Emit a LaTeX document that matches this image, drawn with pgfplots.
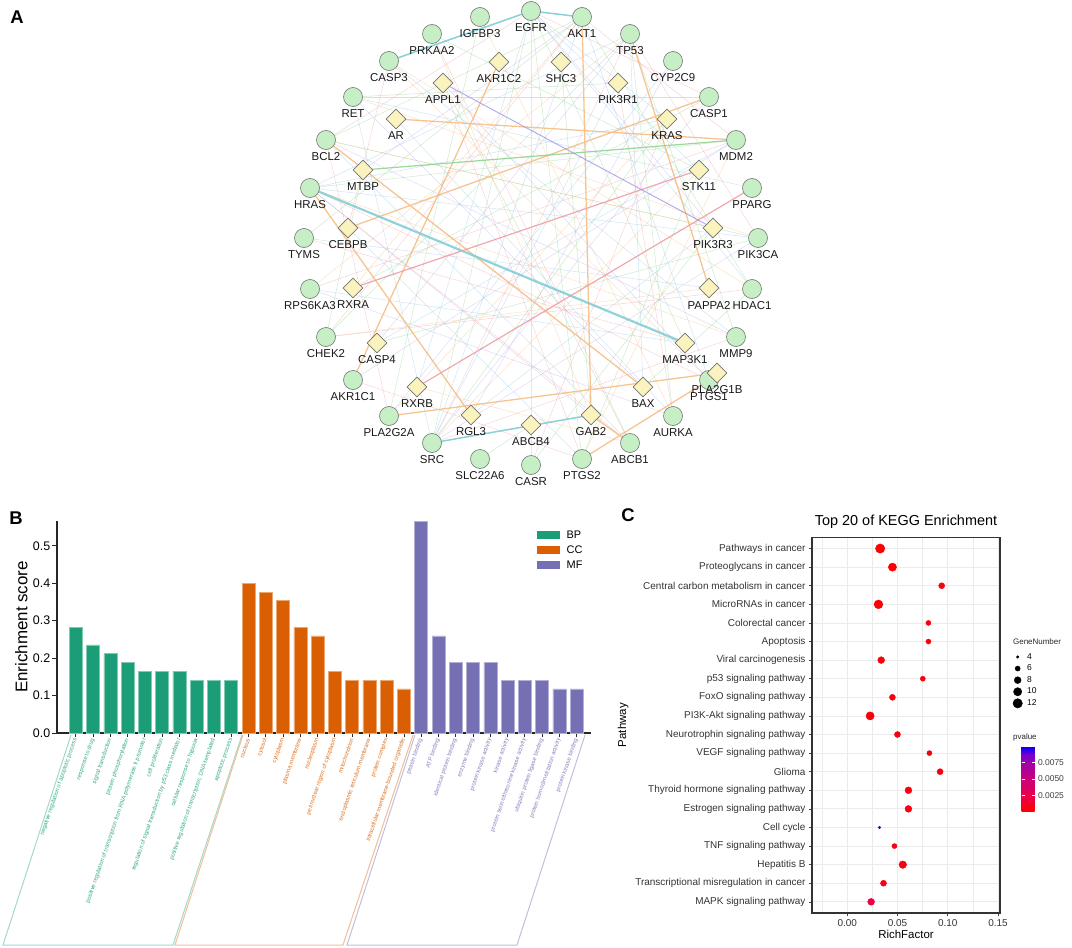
\documentclass[border=0pt]{standalone}
\usepackage{fontspec}
\setmainfont{Liberation Sans}
\usepackage{pgfplots}
\usepackage{pgfplotstable}
\pgfplotsset{compat=1.18}

\definecolor{bpc}{HTML}{1B9E77}
\definecolor{ccc}{HTML}{D95F02}
\definecolor{mfc}{HTML}{7570B3}
\definecolor{nodegreen}{HTML}{C6EFC6}
\definecolor{nodeyellow}{HTML}{FBF3BD}
\definecolor{egreen}{HTML}{8ED48E}
\definecolor{eblue}{HTML}{93C5E6}
\definecolor{epink}{HTML}{EE9FA6}
\definecolor{eorange}{HTML}{F6BE85}
\definecolor{epurple}{HTML}{BDAEE0}
\definecolor{ecyan}{HTML}{7CCBD3}
\definecolor{gridc}{HTML}{EBEBEB}

\newcommand{\fs}[1]{\fontsize{#1}{#1}\selectfont}
\newcommand{\bpl}[1]{\textcolor{bpc!90!white}{#1}}
\newcommand{\ccl}[1]{\textcolor{ccc!90!white}{#1}}
\newcommand{\mfl}[1]{\textcolor{mfc!90!white}{#1}}

% network nodes (picture pixels, y downwards)
\pgfplotstableread{
x y label
531 11 EGFR
582 17 AKT1
630 34 TP53
673 61 CYP2C9
709 97 CASP1
736 140 MDM2
752 188 PPARG
758 238 PIK3CA
752 289 HDAC1
736 337 MMP9
709 380 PTGS1
673 416 AURKA
630 443 ABCB1
582 459 PTGS2
531 465 CASR
480 459 SLC22A6
432 443 SRC
389 416 PLA2G2A
353 380 AKR1C1
326 337 CHEK2
310 289 RPS6KA3
304 238 TYMS
310 188 HRAS
326 140 BCL2
353 97 RET
389 61 CASP3
432 34 PRKAA2
480 17 IGFBP3
}\circlenodes

\pgfplotstableread{
x y label
499 62 AKR1C2
561 62 SHC3
618 83 PIK3R1
667 119 KRAS
699 170 STK11
713 228 PIK3R3
709 288 PAPPA2
685 343 MAP3K1
717 373 PLA2G1B
643 387 BAX
591 415 GAB2
531 425 ABCB4
471 415 RGL3
417 387 RXRB
377 343 CASP4
353 288 RXRA
348 228 CEBPB
363 170 MTBP
396 119 AR
443 83 APPL1
}\diamondnodes

% edges: x1 y1 x2 y2
\pgfplotstableread{
x1 y1 x2 y2
531 11 432 443
531 11 582 459
531 11 685 343
582 17 326 140
582 17 752 289
630 34 326 337
630 34 736 337
736 140 310 188
709 97 353 288
758 238 377 343
432 443 667 119
582 459 699 170
630 443 443 83
591 415 561 62
353 97 618 83
432 34 699 170
326 337 363 170
673 416 630 34
752 289 643 387
480 459 531 425
531 465 713 228
480 17 389 416
326 140 758 238
304 238 582 17
}\edgeG

\pgfplotstableread{
x1 y1 x2 y2
531 11 667 119
531 11 699 170
531 11 752 289
531 11 417 387
582 17 709 380
582 17 432 443
630 34 643 387
630 34 310 188
310 188 667 119
310 188 758 238
353 97 752 188
389 61 736 337
326 140 630 443
432 443 618 83
432 443 353 97
582 459 348 228
310 289 685 343
304 238 709 288
736 140 377 343
713 228 471 415
673 61 389 416
673 416 396 119
}\edgeB

\pgfplotstableread{
x1 y1 x2 y2
531 11 326 140
531 11 709 97
582 17 736 140
582 17 326 337
630 34 758 238
630 34 432 443
310 188 709 380
310 188 630 443
353 97 709 97
389 61 348 228
326 140 389 416
667 119 531 465
432 443 736 337
582 459 353 380
685 343 304 238
618 83 673 416
736 140 310 289
326 337 752 289
432 34 630 443
443 83 582 459
}\edgeP

\pgfplotstableread{
x1 y1 x2 y2
531 11 531 465
582 17 353 288
630 34 310 289
389 61 709 380
758 238 353 97
432 443 699 170
582 459 736 140
480 17 673 416
432 34 591 415
326 140 713 228
752 289 389 61
630 443 417 387
667 119 389 416
736 337 310 188
326 337 709 288
}\edgeO

\pgfplotstableread{
x1 y1 x2 y2
531 11 713 228
582 17 363 170
630 34 377 343
432 443 709 97
310 188 591 415
758 238 432 443
736 140 353 380
326 140 736 337
353 97 643 387
709 380 443 83
673 61 471 415
673 416 310 289
}\edgeU

\pgfplotstableread{
x1 y1 x2 y2
396 119 736 140
326 140 643 387
348 228 709 97
353 380 499 62
310 188 471 415
389 416 717 373
630 34 709 288
591 415 630 443
582 459 709 380
582 17 591 415
}\strongO

\pgfplotstableread{
x1 y1 x2 y2
432 443 591 415
389 61 531 11
531 11 582 17
}\strongC

\pgfplotstableread{
x1 y1 x2 y2
417 387 752 188
353 288 699 170
}\strongP

% KEGG dot plot: row (20 = top), RichFactor, GeneNumber, pvalue
\pgfplotstableread{
y x n p
20 0.0328 12 0.00002
19 0.0450 10 0.0001
18 0.0940 7 0.0003
17 0.0311 11 0.0001
16 0.0808 6 0.0004
15 0.0808 6 0.0004
14 0.0338 8 0.0003
13 0.0752 6 0.0005
12 0.0450 7 0.0005
11 0.0228 10 0.0004
10 0.0500 7 0.0006
9 0.0818 6 0.0005
8 0.0924 7 0.0004
7 0.0609 8 0.0005
6 0.0609 8 0.0006
5 0.0321 4 0.0097
4 0.0470 6 0.0008
3 0.0553 9 0.0006
2 0.0361 7 0.0008
1 0.0238 8 0.0021
}\kegg

\begin{document}
\begin{tikzpicture}

% ---------- A: network, on a pixel-sized hidden axis ----------
\begin{axis}[
    at={(0,0)}, anchor=south west,
    scale only axis, width=1072bp, height=948bp,
    xmin=0, xmax=1072, ymin=0, ymax=948,
    y dir=reverse, hide axis, clip=false,
]
\addplot[draw=egreen, line width=0.5bp, opacity=0.45,
    quiver={u=\thisrow{x2}-\thisrow{x1}, v=\thisrow{y2}-\thisrow{y1}}]
    table[x=x1, y=y1] {\edgeG};
\addplot[draw=eblue, line width=0.5bp, opacity=0.45,
    quiver={u=\thisrow{x2}-\thisrow{x1}, v=\thisrow{y2}-\thisrow{y1}}]
    table[x=x1, y=y1] {\edgeB};
\addplot[draw=epink, line width=0.5bp, opacity=0.45,
    quiver={u=\thisrow{x2}-\thisrow{x1}, v=\thisrow{y2}-\thisrow{y1}}]
    table[x=x1, y=y1] {\edgeP};
\addplot[draw=eorange, line width=0.5bp, opacity=0.45,
    quiver={u=\thisrow{x2}-\thisrow{x1}, v=\thisrow{y2}-\thisrow{y1}}]
    table[x=x1, y=y1] {\edgeO};
\addplot[draw=epurple, line width=0.5bp, opacity=0.45,
    quiver={u=\thisrow{x2}-\thisrow{x1}, v=\thisrow{y2}-\thisrow{y1}}]
    table[x=x1, y=y1] {\edgeU};
\addplot[draw=eorange, line width=1.3bp, opacity=0.9,
    quiver={u=\thisrow{x2}-\thisrow{x1}, v=\thisrow{y2}-\thisrow{y1}}]
    table[x=x1, y=y1] {\strongO};
\addplot[draw=ecyan, line width=1.5bp, opacity=0.9,
    quiver={u=\thisrow{x2}-\thisrow{x1}, v=\thisrow{y2}-\thisrow{y1}}]
    table[x=x1, y=y1] {\strongC};
\addplot[draw=ecyan, line width=2.2bp, opacity=0.85] coordinates {(310,188) (685,343)};
\addplot[draw=epink, line width=1.2bp, opacity=0.9,
    quiver={u=\thisrow{x2}-\thisrow{x1}, v=\thisrow{y2}-\thisrow{y1}}]
    table[x=x1, y=y1] {\strongP};
\addplot[draw=egreen, line width=1.2bp, opacity=0.9] coordinates {(363,170) (736,140)};
\addplot[draw=epurple!80!blue, line width=1bp, opacity=0.7] coordinates {(443,83) (713,228)};

\addplot[only marks, mark=*, mark size=9.5bp,
    mark options={fill=nodegreen, draw=black!55, line width=0.6bp},
    nodes near coords, point meta=explicit symbolic,
    every node near coord/.append style={anchor=center, yshift=-17bp,
        font=\fs{11.5}, text=black!90, inner sep=0pt}]
    table[x=x, y=y, meta=label] {\circlenodes};
\addplot[only marks, mark=square*, mark size=7bp,
    mark options={rotate=45, fill=nodeyellow, draw=black!55, line width=0.6bp},
    nodes near coords, point meta=explicit symbolic,
    every node near coord/.append style={anchor=center, yshift=-17bp,
        font=\fs{11.5}, text=black!90, inner sep=0pt}]
    table[x=x, y=y, meta=label] {\diamondnodes};

% group frames under panel B
\addplot[draw=bpc!40!white, line width=1bp] coordinates {(71,735) (3,945) (173,945) (242,735)};
\addplot[draw=ccc!40!white, line width=1bp] coordinates {(243,735) (175,945) (343,945) (413,735)};
\addplot[draw=mfc!45!white, line width=1bp] coordinates {(415,735) (347,945) (517,945) (585,735)};

\node[font=\bfseries\fs{18.5}] at (axis cs:17,17) {A};
\node[font=\bfseries\fs{18.5}] at (axis cs:16,518) {B};
\node[font=\bfseries\fs{18.5}] at (axis cs:628,515) {C};
\end{axis}

% ---------- B: GO enrichment bars ----------
\begin{axis}[
    at={(57bp,215bp)}, anchor=south west,
    scale only axis, width=534bp, height=212bp,
    xmin=-0.089, xmax=30.83, ymin=0, ymax=0.566,
    axis lines=left, axis line style={-, black!85, line width=1.1bp},
    tick align=outside, major tick length=4.5bp,
    tick style={black!85, line width=0.9bp},
    ytick={0,0.1,0.2,0.3,0.4,0.5},
    yticklabels={0.0,0.1,0.2,0.3,0.4,0.5},
    yticklabel style={font=\fs{12.5}, inner sep=2bp},
    ylabel={Enrichment score},
    ylabel style={font=\fs{17}},
    xtick={1,...,30},
    xticklabels={
      \bpl{negative regulation of apoptotic process},
      \bpl{response to drug},
      \bpl{signal transduction},
      \bpl{protein phosphorylation},
      \bpl{positive regulation of transcription from RNA polymerase II promoter},
      \bpl{cell proliferation},
      \bpl{regulation of signal transduction by p53 class mediator},
      \bpl{cellular response to hypoxia},
      \bpl{positive regulation of transcription, DNA-templated},
      \bpl{apoptotic process},
      \ccl{nucleus},
      \ccl{cytosol},
      \ccl{cytoplasm},
      \ccl{plasma membrane},
      \ccl{nucleoplasm},
      \ccl{perinuclear region of cytoplasm},
      \ccl{mitochondrion},
      \ccl{endoplasmic reticulum membrane},
      \ccl{protein complex},
      \ccl{intracellular membrane-bounded organelle},
      \mfl{protein binding},
      \mfl{ATP binding},
      \mfl{identical protein binding},
      \mfl{enzyme binding},
      \mfl{protein kinase activity},
      \mfl{kinase activity},
      \mfl{protein serine/threonine kinase activity},
      \mfl{ubiquitin protein ligase binding},
      \mfl{protein homodimerization activity},
      \mfl{protein kinase binding}},
    xticklabel style={rotate=71, anchor=east, font=\fs{5.8}, inner sep=1bp},
    clip=false,
    legend style={at={(rel axis cs:0.893,0.975)}, anchor=north west,
        draw=none, fill=none, font=\fs{11}, row sep=2bp, column sep=5bp,
        nodes={inner sep=2bp}},
    legend cell align=left,
]
\addplot[ybar, bar width=13bp, bar shift=0pt, fill=bpc, draw=bpc!55!white, line width=0.6bp,
    legend image code/.code={\fill[bpc] (0bp,-3.5bp) rectangle (22bp,3.5bp);}]
    coordinates {(1,0.282) (2,0.235) (3,0.212) (4,0.188) (5,0.165)
                 (6,0.165) (7,0.165) (8,0.141) (9,0.141) (10,0.141)};
\addlegendentry{BP}
\addplot[ybar, bar width=13bp, bar shift=0pt, fill=ccc, draw=ccc!55!white, line width=0.6bp,
    legend image code/.code={\fill[ccc] (0bp,-3.5bp) rectangle (22bp,3.5bp);}]
    coordinates {(11,0.400) (12,0.376) (13,0.353) (14,0.282) (15,0.259)
                 (16,0.165) (17,0.141) (18,0.141) (19,0.141) (20,0.118)};
\addlegendentry{CC}
\addplot[ybar, bar width=13bp, bar shift=0pt, fill=mfc, draw=mfc!55!white, line width=0.6bp,
    legend image code/.code={\fill[mfc] (0bp,-3.5bp) rectangle (22bp,3.5bp);}]
    coordinates {(21,0.565) (22,0.259) (23,0.188) (24,0.188) (25,0.188)
                 (26,0.141) (27,0.141) (28,0.141) (29,0.118) (30,0.118)};
\addlegendentry{MF}
\end{axis}

% ---------- C: KEGG dot plot ----------
\begin{axis}[
    at={(812bp,35bp)}, anchor=south west,
    scale only axis, width=188bp, height=375.6bp,
    xmin=-0.035, xmax=0.152, ymin=0.4, ymax=20.6,
    axis line style={black!80, line width=1.2bp},
    tick pos=left, tick align=outside, major tick length=3bp,
    tick style={black!75, line width=0.6bp}, minor tick length=0pt,
    xtick={0,0.05,0.1,0.15}, xticklabels={0.00,0.05,0.10,0.15},
    minor xtick={-0.025,0.025,0.075,0.125},
    ytick={1,...,20},
    yticklabels={MAPK signaling pathway, Transcriptional misregulation in cancer,
      Hepatitis B, TNF signaling pathway, Cell cycle, Estrogen signaling pathway,
      Thyroid hormone signaling pathway, Glioma, VEGF signaling pathway,
      Neurotrophin signaling pathway, PI3K-Akt signaling pathway,
      FoxO signaling pathway, p53 signaling pathway, Viral carcinogenesis,
      Apoptosis, Colorectal cancer, MicroRNAs in cancer,
      Central carbon metabolism in cancer, Proteoglycans in cancer,
      Pathways in cancer},
    ticklabel style={font=\fs{10}, text=black!80},
    xmajorgrids, ymajorgrids, xminorgrids,
    major grid style={gridc, line width=0.8bp},
    minor grid style={gridc, line width=0.4bp},
    title={Top 20 of KEGG Enrichment},
    title style={font=\fs{14.5}, yshift=-1bp},
    xlabel={RichFactor}, xlabel style={font=\fs{11.5}, yshift=3bp},
    ylabel={Pathway}, ylabel style={font=\fs{11.5}},
    clip=false,
    colormap={pv}{rgb255(0cm)=(255,0,0) rgb255(1cm)=(232,0,75) rgb255(2cm)=(202,0,122)
                  rgb255(3cm)=(160,0,170) rgb255(3.5cm)=(118,0,208) rgb255(4cm)=(0,0,255)},
    point meta min=0, point meta max=0.01,
    colorbar,
    colorbar style={at={(parent axis.south east)}, anchor=north west,
        xshift=13bp, yshift=166.6bp,
        scale only axis, width=13bp, height=65bp,
        ytick={0.0025,0.005,0.0075}, yticklabels={0.0025,0.0050,0.0075},
        scaled y ticks=false,
        yticklabel style={font=\fs{8.5}, text=black!75},
        axis line style={draw=none},
        tick style={white, line width=0.6bp}, major tick length=3bp,
        tick align=inside},
    legend style={at={(rel axis cs:1.052,0.702)}, anchor=north west,
        draw=none, fill=none, font=\fs{8.5}, row sep=0.6bp, column sep=3bp,
        nodes={inner sep=1.8bp}},
    legend cell align=left,
    legend image code/.code={\draw[#1] plot coordinates {(0bp,0bp)};},
]
\addplot[scatter, only marks, mark=*, forget plot,
    point meta=\thisrow{p},
    scatter/use mapped color={draw=mapped color, fill=mapped color},
    visualization depends on={\thisrow{n} \as \gn},
    scatter/@pre marker code/.append style={/tikz/mark size={1.3+3.1*ln(\gn/4)}}]
    table[x=x, y=y] {\kegg};

\addlegendimage{only marks, mark=*, black, mark size=1.3bp}
\addlegendentry{4}
\addlegendimage{only marks, mark=*, black, mark size=2.56bp}
\addlegendentry{6}
\addlegendimage{only marks, mark=*, black, mark size=3.45bp}
\addlegendentry{8}
\addlegendimage{only marks, mark=*, black, mark size=4.14bp}
\addlegendentry{10}
\addlegendimage{only marks, mark=*, black, mark size=4.71bp}
\addlegendentry{12}

\node[anchor=west, font=\fs{8}, text=black!85, inner sep=0pt] at (rel axis cs:1.069,0.723) {GeneNumber};
\node[anchor=west, font=\fs{8}, text=black!85, inner sep=0pt] at (rel axis cs:1.069,0.4675) {pvalue};
\end{axis}

\pgfresetboundingbox
\useasboundingbox (0,0) rectangle (1072bp,948bp);
\end{tikzpicture}
\end{document}
